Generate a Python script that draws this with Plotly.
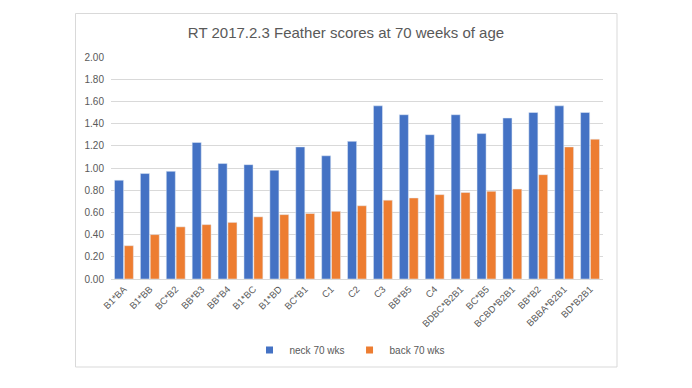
import plotly.graph_objects as go

categories = ["B1*BA", "B1*BB", "BC*B2", "BB*B3", "BB*B4", "B1*BC", "B1*BD", "BC*B1",
              "C1", "C2", "C3", "BB*B5", "C4", "BDBC*B2B1", "BC*B5", "BCBD*B2B1",
              "BB*B2", "BBBA*B2B1", "BD*B2B1"]
neck = [0.89, 0.95, 0.97, 1.23, 1.04, 1.03, 0.98, 1.19, 1.11, 1.24, 1.56, 1.48,
        1.30, 1.48, 1.31, 1.45, 1.50, 1.56, 1.50]
back = [0.30, 0.40, 0.47, 0.49, 0.51, 0.56, 0.58, 0.59, 0.61, 0.66, 0.71, 0.73,
        0.76, 0.78, 0.79, 0.81, 0.94, 1.19, 1.26]
series_names = ["neck 70 wks", "back 70 wks"]
colors = ["#4472C4", "#ED7D31"]

font = "Liberation Sans"
fig = go.Figure()
for name, vals, col in zip(series_names, [neck, back], colors):
    fig.add_trace(go.Bar(name=name, x=categories, y=vals, marker_color=col,
                         showlegend=False))
for name, col in zip(series_names, colors):
    fig.add_trace(go.Scatter(name=name, x=[None], y=[None], mode="markers",
                             marker=dict(symbol="square", size=7, color=col)))

OFF = 8  # page body offset
W, H = 692, 388
L, R, T, B = 111 - OFF, 89 + OFF, 57 - OFF, 109 + OFF
pw, ph = W - L - R, H - T - B

def px(x):
    return (x - OFF - L) / pw

def py(y):
    return (H - B - (y - OFF)) / ph

fig.update_layout(
    width=W, height=H,
    margin=dict(l=L, r=R, t=T, b=B),
    paper_bgcolor="white", plot_bgcolor="white",
    barmode="group", bargap=0.24, bargroupgap=0.08,
    title=dict(text="RT 2017.2.3 Feather scores at 70 weeks of age",
               x=px(346), xref="paper", xanchor="center",
               y=1 - (33 - OFF) / H, yanchor="middle",
               font=dict(family=font, size=15, color="#595959")),
    font=dict(family=font, size=9, color="#595959"),
    legend=dict(orientation="h", x=px(350), xanchor="center", y=py(350), yanchor="middle",
                font=dict(size=10, color="#595959"), itemwidth=30, tracegroupgap=0),
    xaxis=dict(tickangle=-45, showgrid=False, showline=True, linecolor="#D9D9D9",
               ticks="", tickfont=dict(size=9.5, color="#595959")),
    yaxis=dict(range=[0, 2.0], dtick=0.2, tickformat=".2f", showgrid=True,
               gridcolor="#D9D9D9", zeroline=False, showline=False, ticks="",
               ticklabelstandoff=6,
               tickfont=dict(size=10, color="#595959")),
    shapes=[dict(type="rect", xref="paper", yref="paper",
                 x0=px(75.5), x1=px(617), y0=py(367), y1=py(13.5),
                 line=dict(color="#D9D9D9", width=1), fillcolor="rgba(0,0,0,0)",
                 layer="below")],
)

fig.write_html("out.html")
